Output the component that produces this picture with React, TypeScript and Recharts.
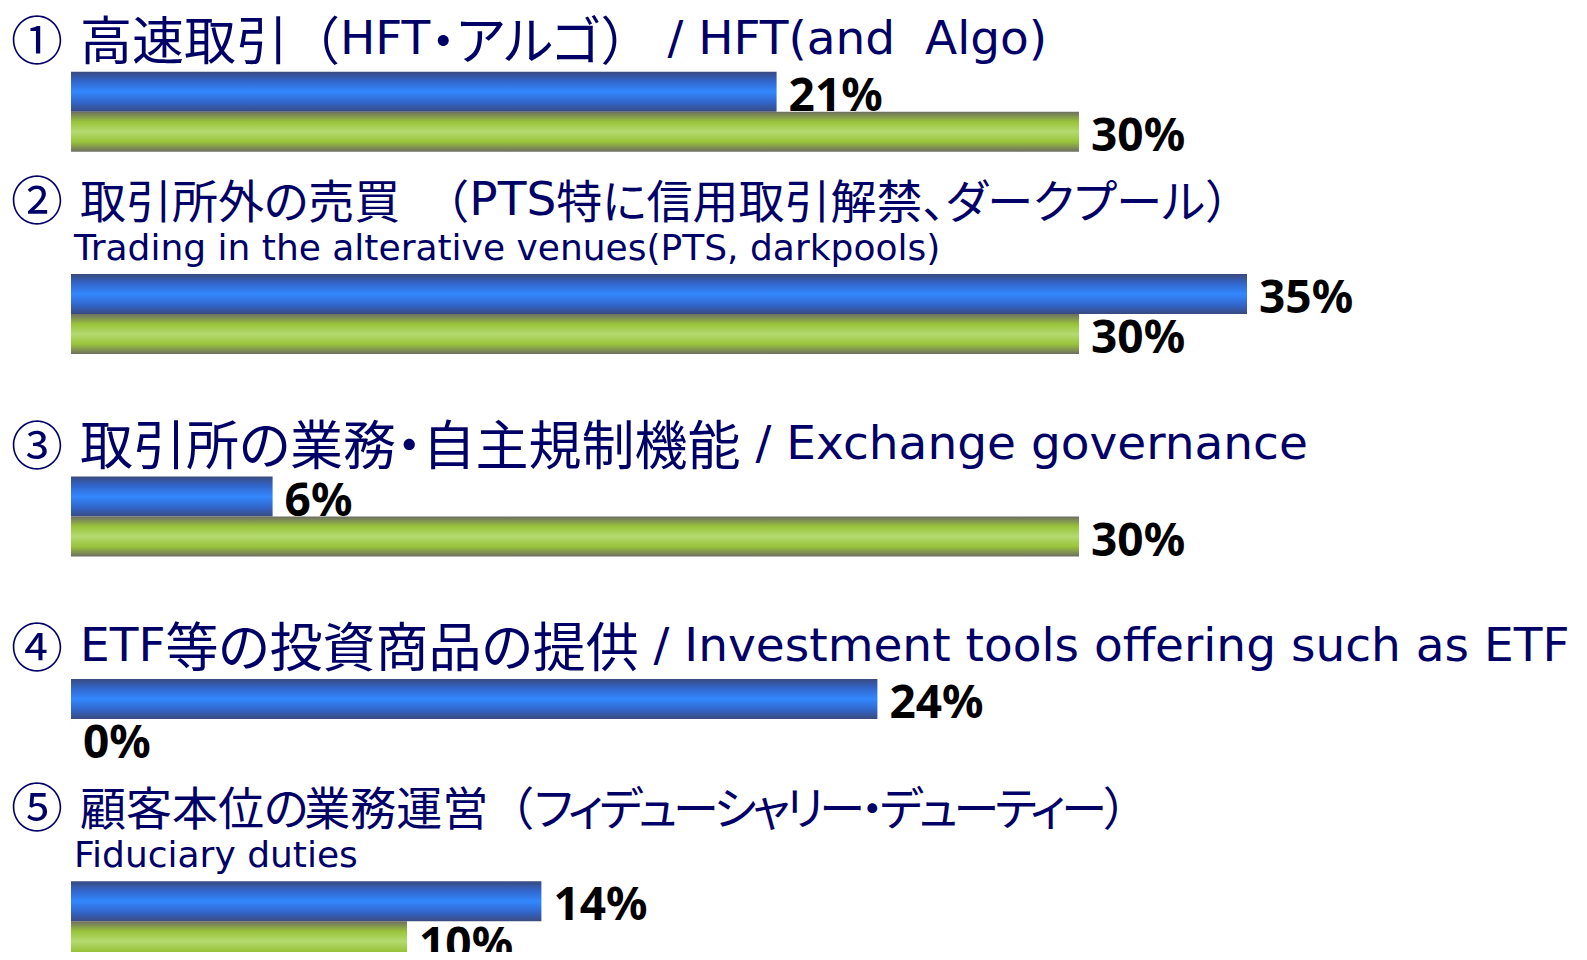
import { BarChart, Bar, XAxis, YAxis, LabelList } from "recharts";

const categories = ["①", "②", "③", "④", "⑤"];
const titles = [
  "高速取引（HFT・アルゴ） / HFT(and  Algo)",
  "取引所外の売買　（PTS特に信用取引解禁、ダークプール）",
  "取引所の業務・自主規制機能 / Exchange governance",
  "ETF等の投資商品の提供 / Investment tools offering such as ETF",
  "顧客本位の業務運営（フィデューシャリー・デューティー）",
];
const subtitles = ["", "Trading in the alterative venues(PTS, darkpools)", "", "", "Fiduciary duties"];
const blueValues = [21, 35, 6, 24, 14];
const greenValues = [30, 30, 30, 0, 10];

// per-title font tuning (the source mixes Meiryo and Meiryo UI)
const cjkSizes = [52, 46, 53, 53, 46];
const kanaSpacing = [0, 0, 0, 0, -4];

const data = categories.map((name, i) => ({
  name,
  blue: blueValues[i],
  green: greenValues[i],
}));

const navy = "#000066";
const latinFont = "Verdana, 'DejaVu Sans', sans-serif";
const cjkFont = "'Noto Sans CJK JP', sans-serif";

const LATIN = /^[\u0000-\u00ff]+$/;
const KANA = /^[\u3001\u3002\u3040-\u30ff]+$/;

// split a title into latin / kana / kanji runs so each gets its own font settings
function runs(text: string) {
  return text.match(/[\u0000-\u00ff]+|[\u3001\u3002\u3040-\u30ff]+|[^\u0000-\u00ff\u3001\u3002\u3040-\u30ff]+/g) || [];
}

function TitleTick(props: any) {
  const { y, payload, index } = props;
  const sub = subtitles[index];
  const titleY = sub ? y - 117 : y - 75;
  const cjkSize = cjkSizes[index];
  return (
    <g>
      <text x={3} y={titleY} dominantBaseline="central" fontSize={52} fill={navy} fontFamily={cjkFont}>
        {payload.value}
      </text>
      <text x={72} y={titleY} dominantBaseline="central" fill={navy} style={{ whiteSpace: "pre" }}>
        {runs(titles[index]).map((r, i) => {
          if (LATIN.test(r)) {
            return <tspan key={i} fontFamily={latinFont} fontSize={47}>{r}</tspan>;
          }
          if (KANA.test(r)) {
            return (
              <tspan key={i} fontFamily={cjkFont} fontSize={cjkSize}
                style={{ fontFeatureSettings: '"palt"', letterSpacing: `${kanaSpacing[index]}px` }}>{r}</tspan>
            );
          }
          return <tspan key={i} fontFamily={cjkFont} fontSize={cjkSize}>{r}</tspan>;
        })}
      </text>
      {sub && (
        <text x={66} y={y - 67} dominantBaseline="central" fontSize={36} fill={navy}
          fontFamily={latinFont}>
          {sub}
        </text>
      )}
    </g>
  );
}

function ValueLabel(props: any) {
  const { x, y, width, height, value } = props;
  return (
    <text x={x + width + 12} y={y + height / 2 + 19} fontSize={46} fontWeight="bold"
      fill="#000" fontFamily="'Noto Sans', sans-serif">
      {value}%
    </text>
  );
}

export default function App() {
  return (
    <div style={{ width: 1571, height: 944, overflow: "hidden" }}>
      <BarChart
        width={1571}
        height={1015}
        data={data}
        layout="vertical"
        margin={{ top: 3, right: 164, bottom: 0, left: 0 }}
        barCategoryGap="30%"
        barGap={0}
        style={{ overflow: "visible" }}
      >
        <defs>
          <linearGradient id="blueGrad" x1="0" y1="0" x2="0" y2="1">
            <stop offset="0%" stopColor="#3a4a7e" />
            <stop offset="22%" stopColor="#3264c8" />
            <stop offset="50%" stopColor="#3388ff" />
            <stop offset="78%" stopColor="#3264c8" />
            <stop offset="100%" stopColor="#3a4a7e" />
          </linearGradient>
          <linearGradient id="greenGrad" x1="0" y1="0" x2="0" y2="1">
            <stop offset="0%" stopColor="#6e6e62" />
            <stop offset="25%" stopColor="#99c43a" />
            <stop offset="50%" stopColor="#b4da70" />
            <stop offset="75%" stopColor="#99c43a" />
            <stop offset="100%" stopColor="#6e6e62" />
          </linearGradient>
        </defs>
        <XAxis type="number" domain={[0, 40]} hide />
        <YAxis type="category" dataKey="name" width={63} axisLine={false} tickLine={false}
          tick={<TitleTick />} interval={0} />
        <Bar dataKey="blue" fill="url(#blueGrad)" isAnimationActive={false}>
          <LabelList dataKey="blue" content={<ValueLabel />} />
        </Bar>
        <Bar dataKey="green" fill="url(#greenGrad)" minPointSize={0.01} isAnimationActive={false}>
          <LabelList dataKey="green" content={<ValueLabel />} />
        </Bar>
      </BarChart>
    </div>
  );
}
